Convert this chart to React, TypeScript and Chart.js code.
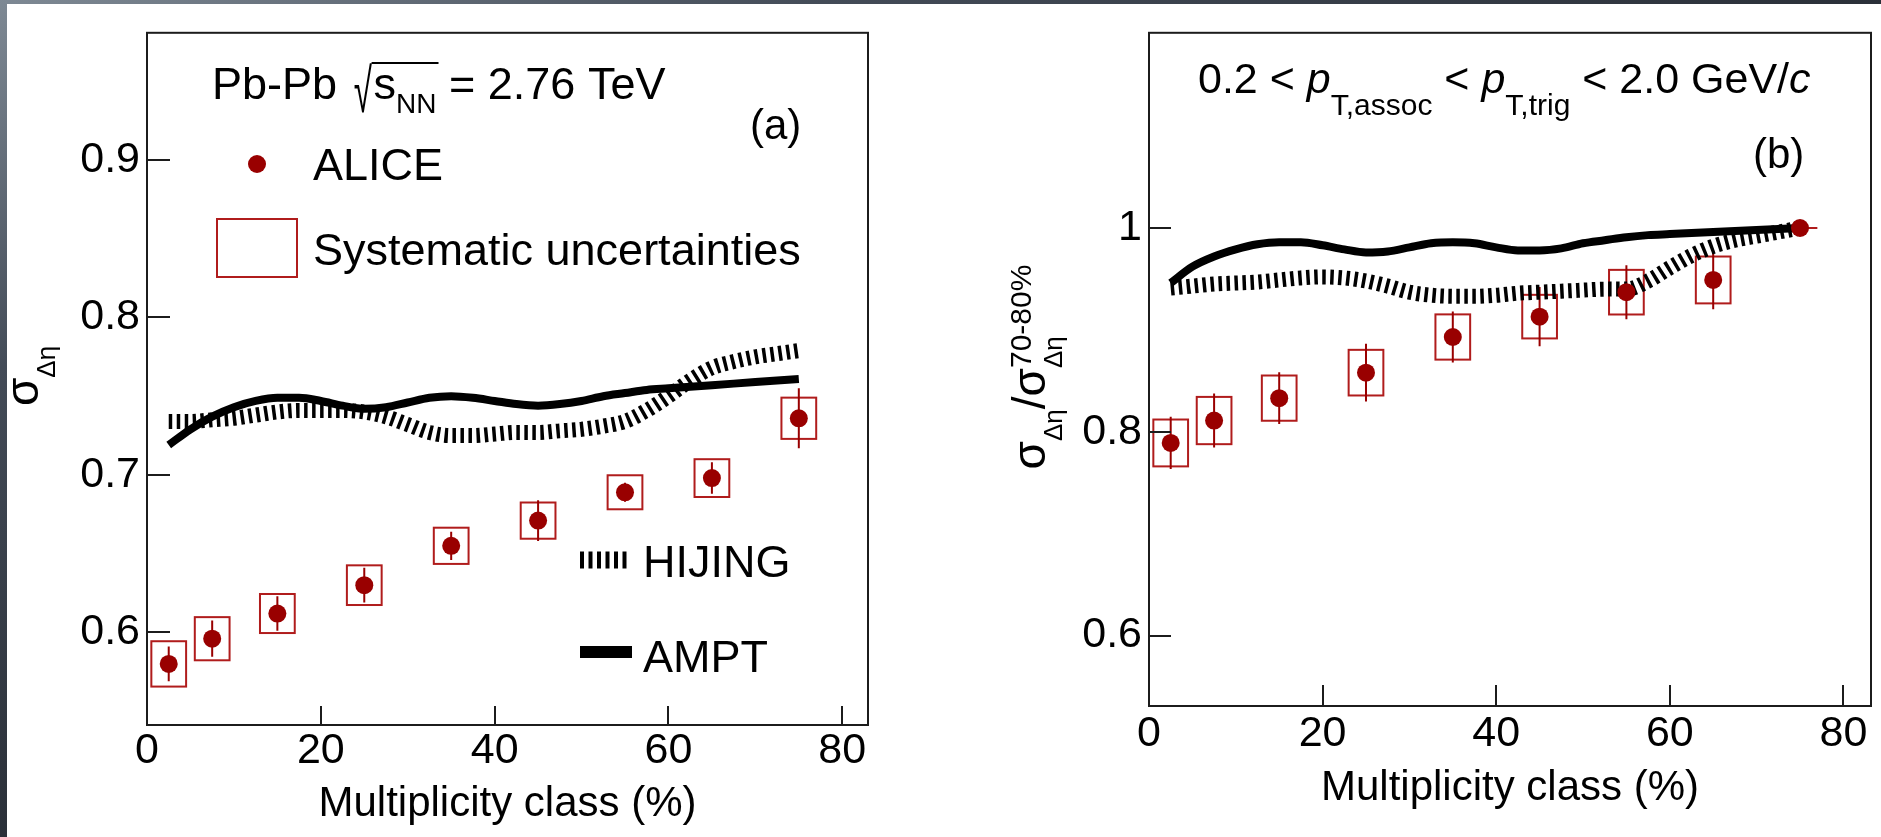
import React, { useEffect, useRef } from "react";
import { Chart, registerables } from "chart.js";

Chart.register(...registerables);

const FONT = "'Liberation Sans', Arial, Helvetica, sans-serif";
const RED = "#990000";
const BOX_RED = "#b01c1c";
const INK = "#000000";
const FRAME = "#1c1c1c";

// ---------------- data ----------------
const centrality = [2.5, 7.5, 15, 25, 35, 45, 55, 65, 75];
const centralityHalfWidth = 2;

const sigmaAlice = [0.58, 0.596, 0.612, 0.63, 0.655, 0.671, 0.689, 0.698, 0.736];
const sigmaStat = [0.011, 0.0115, 0.011, 0.011, 0.009, 0.013, 0.006, 0.01, 0.019];
const sigmaSys = [0.0144, 0.0137, 0.0124, 0.0126, 0.0115, 0.0115, 0.0108, 0.012, 0.0131];

const ratioAlice = [0.789, 0.811, 0.833, 0.858, 0.893, 0.913, 0.937, 0.949, 1.0];
const ratioStat = [0.0256, 0.0265, 0.0255, 0.0284, 0.025, 0.029, 0.0265, 0.0288, 0];
const ratioSys = [0.023, 0.0232, 0.0222, 0.0224, 0.0222, 0.0214, 0.0219, 0.023, 0];

const modelCentrality = [
  2.5, 5, 7.5, 10, 12.5, 15, 17.5, 20, 22.5, 25, 27.5, 30, 32.5, 35, 37.5,
  40, 42.5, 45, 47.5, 50, 52.5, 55, 57.5, 60, 62.5, 65, 67.5, 70, 72.5, 75,
];
const sigmaHijing = [
  0.734, 0.734, 0.735, 0.736, 0.738, 0.74, 0.741, 0.741, 0.741, 0.74, 0.737, 0.732, 0.727, 0.725, 0.725,
  0.726, 0.727, 0.727, 0.728, 0.729, 0.731, 0.734, 0.741, 0.75, 0.76, 0.768, 0.772, 0.775, 0.777, 0.779,
];
const sigmaAmpt = [
  0.719, 0.729, 0.737, 0.743, 0.747, 0.749, 0.749, 0.747, 0.744, 0.742, 0.743, 0.746, 0.749, 0.75, 0.749,
  0.747, 0.745, 0.744, 0.745, 0.747, 0.75, 0.752, 0.754, 0.755, 0.756, 0.757, 0.758, 0.759, 0.76, 0.761,
];
const ratioHijing = [
  0.941, 0.943, 0.945, 0.946, 0.947, 0.949, 0.951, 0.952, 0.951, 0.948, 0.943, 0.937, 0.934, 0.933, 0.933,
  0.934, 0.936, 0.937, 0.938, 0.939, 0.94, 0.94, 0.948, 0.961, 0.973, 0.982, 0.988, 0.992, 0.996, 1.0,
];
const ratioAmpt = [
  0.946, 0.962, 0.972, 0.979, 0.984, 0.986, 0.986, 0.983, 0.979, 0.976, 0.977, 0.981, 0.985, 0.986, 0.985,
  0.981, 0.978, 0.978, 0.98, 0.985, 0.988, 0.991, 0.993, 0.994, 0.995, 0.996, 0.997, 0.998, 0.999, 1.0,
];

const xTickValues = [0, 20, 40, 60, 80];
const xTickLabels = ["0", "20", "40", "60", "80"];
const sigmaTickValues = [0.6, 0.7, 0.8, 0.9];
const sigmaTickLabels = ["0.6", "0.7", "0.8", "0.9"];
const ratioTickValues = [0.6, 0.8, 1];
const ratioTickLabels = ["0.6", "0.8", "1"];

// ---------------- text helpers ----------------
type Seg = { t: string; size: number; dy?: number; italic?: boolean; stack?: boolean };

const segFont = (s: Seg) => `${s.italic ? "italic " : ""}${s.size}px ${FONT}`;

function layoutRich(ctx: CanvasRenderingContext2D, x0: number, y0: number, segs: Seg[], draw: boolean): number {
  let x = x0;
  let prevStart = x0;
  let prevW = 0;
  for (const s of segs) {
    ctx.font = segFont(s);
    const w = ctx.measureText(s.t).width;
    if (s.stack) {
      if (draw) ctx.fillText(s.t, prevStart, y0 + (s.dy ?? 0));
      prevW = Math.max(prevW, w);
      x = prevStart + prevW;
    } else {
      if (draw) ctx.fillText(s.t, x, y0 + (s.dy ?? 0));
      prevStart = x;
      prevW = w;
      x += w;
    }
  }
  return x;
}

function drawRich(ctx: CanvasRenderingContext2D, x: number, y: number, segs: Seg[]) {
  ctx.textAlign = "left";
  ctx.textBaseline = "alphabetic";
  return layoutRich(ctx, x, y, segs, true);
}

function drawVertical(ctx: CanvasRenderingContext2D, baseX: number, centerY: number, segs: Seg[]) {
  ctx.save();
  ctx.textAlign = "left";
  ctx.textBaseline = "alphabetic";
  const w = layoutRich(ctx, 0, 0, segs, false);
  ctx.translate(baseX, centerY);
  ctx.rotate(-Math.PI / 2);
  layoutRich(ctx, -w / 2, 0, segs, true);
  ctx.restore();
}

// draw a glyph stretched to fill a given box
function drawGlyphInBox(ctx: CanvasRenderingContext2D, glyph: string, x0: number, y0: number, x1: number, y1: number) {
  ctx.save();
  ctx.font = `46px ${FONT}`;
  ctx.textAlign = "left";
  ctx.textBaseline = "alphabetic";
  const m = ctx.measureText(glyph);
  const gx0 = -m.actualBoundingBoxLeft;
  const gx1 = m.actualBoundingBoxRight;
  const gy0 = -m.actualBoundingBoxAscent;
  const gy1 = m.actualBoundingBoxDescent;
  ctx.translate(x0, y0);
  ctx.scale((x1 - x0) / Math.max(1, gx1 - gx0), (y1 - y0) / Math.max(1, gy1 - gy0));
  ctx.fillText(glyph, -gx0, -gy0);
  ctx.restore();
}

// ---------------- panel factory ----------------
type PanelSpec = {
  canvas: HTMLCanvasElement;
  pad: { left: number; top: number; right: number; bottom: number };
  yAxisWidth: number;
  xAxisHeight: number;
  xMax: number;
  yMin: number;
  yMax: number;
  yTicks: number[];
  yLabels: string[];
  alice: number[];
  stat: number[];
  sys: number[];
  hijing: number[];
  ampt: number[];
  xTickPad: number;
  xTitlePad: number;
  tickLenX: number;
  tickLenY: number;
  decorate: (ctx: CanvasRenderingContext2D) => void;
};

function makePanel(p: PanelSpec) {
  const tickFont = { family: FONT, size: 43 };
  const errorPlugin = {
    id: "errorsAndBoxes",
    beforeDatasetsDraw(chart: any) {
      const { ctx, chartArea, scales } = chart;
      const x = scales.x;
      const y = scales.y;
      ctx.save();
      ctx.beginPath();
      ctx.rect(chartArea.left, chartArea.top, chartArea.right - chartArea.left, chartArea.bottom - chartArea.top);
      ctx.clip();
      centrality.forEach((c, i) => {
        const x0 = x.getPixelForValue(c - centralityHalfWidth);
        const x1 = x.getPixelForValue(c + centralityHalfWidth);
        const yt = y.getPixelForValue(p.alice[i] + p.sys[i]);
        const yb = y.getPixelForValue(p.alice[i] - p.sys[i]);
        ctx.strokeStyle = BOX_RED;
        ctx.lineWidth = 2;
        ctx.strokeRect(x0, yt, x1 - x0, yb - yt);
        if (p.stat[i] > 0) {
          const px = x.getPixelForValue(c);
          ctx.strokeStyle = RED;
          ctx.beginPath();
          ctx.moveTo(px, y.getPixelForValue(p.alice[i] + p.stat[i]));
          ctx.lineTo(px, y.getPixelForValue(p.alice[i] - p.stat[i]));
          ctx.stroke();
        }
      });
      ctx.restore();
    },
  };
  const framePlugin = {
    id: "frameAndText",
    afterDraw(chart: any) {
      const { ctx, chartArea, scales } = chart;
      const { left, right, top, bottom } = chartArea;
      ctx.save();
      ctx.strokeStyle = FRAME;
      ctx.lineWidth = 2;
      ctx.strokeRect(left, top, right - left, bottom - top);
      ctx.beginPath();
      for (const t of scales.x.ticks) {
        const px = Math.round(scales.x.getPixelForValue(t.value));
        ctx.moveTo(px, bottom);
        ctx.lineTo(px, bottom - p.tickLenX);
      }
      for (const t of scales.y.ticks) {
        const py = Math.round(scales.y.getPixelForValue(t.value));
        ctx.moveTo(left, py);
        ctx.lineTo(left + p.tickLenY, py);
      }
      ctx.stroke();
      ctx.fillStyle = INK;
      p.decorate(ctx);
      ctx.restore();
    },
  };

  return new Chart(p.canvas, {
    type: "line",
    data: {
      datasets: [
        {
          label: "ALICE",
          data: centrality.map((c, i) => ({ x: c, y: p.alice[i] })),
          showLine: false,
          pointRadius: 9,
          pointHoverRadius: 9,
          pointBackgroundColor: RED,
          pointBorderColor: RED,
          pointBorderWidth: 0,
          borderColor: RED,
        },
        {
          label: "HIJING",
          data: modelCentrality.map((c, i) => ({ x: c, y: p.hijing[i] })),
          borderColor: "#000",
          borderWidth: 15,
          borderDash: [3.5, 4.5],
          borderJoinStyle: "bevel",
          pointRadius: 0,
          cubicInterpolationMode: "monotone",
          fill: false,
        },
        {
          label: "AMPT",
          data: modelCentrality.map((c, i) => ({ x: c, y: p.ampt[i] })),
          borderColor: "#000",
          borderWidth: 8,
          borderJoinStyle: "round",
          pointRadius: 0,
          cubicInterpolationMode: "monotone",
          fill: false,
        },
      ],
    },
    options: {
      responsive: false,
      animation: false,
      events: [],
      layout: { padding: p.pad },
      plugins: { legend: { display: false }, tooltip: { enabled: false }, title: { display: false } },
      scales: {
        x: {
          type: "linear",
          min: 0,
          max: p.xMax,
          grid: { display: false, drawTicks: false },
          border: { display: false },
          afterBuildTicks: (s: any) => {
            s.ticks = xTickValues.map((v) => ({ value: v }));
          },
          ticks: {
            autoSkip: false,
            maxRotation: 0,
            padding: p.xTickPad,
            color: INK,
            font: tickFont,
            callback: (v: any) => xTickLabels[xTickValues.indexOf(Number(v))] ?? "",
          },
          title: {
            display: true,
            text: "Multiplicity class (%)",
            color: INK,
            font: { family: FONT, size: 42 },
            padding: { top: 0, bottom: p.xTitlePad },
          },
          afterFit: (s: any) => {
            s.height = p.xAxisHeight;
          },
        },
        y: {
          type: "linear",
          min: p.yMin,
          max: p.yMax,
          grid: { display: false, drawTicks: false },
          border: { display: false },
          afterBuildTicks: (s: any) => {
            s.ticks = p.yTicks.map((v) => ({ value: v }));
          },
          ticks: {
            autoSkip: false,
            padding: 7,
            color: INK,
            font: tickFont,
            callback: (v: any) => {
              const idx = p.yTicks.findIndex((t) => Math.abs(t - Number(v)) < 1e-9);
              return idx >= 0 ? p.yLabels[idx] : "";
            },
          },
          afterFit: (s: any) => {
            s.width = p.yAxisWidth;
          },
        },
      },
    } as any,
    plugins: [errorPlugin, framePlugin],
  });
}

// ---------------- decorations ----------------
function decorateLeft(ctx: CanvasRenderingContext2D) {
  // Pb-Pb sqrt(s_NN) = 2.76 TeV
  const cx = drawRich(ctx, 212, 99, [{ t: "Pb-Pb ", size: 45 }]);
  const rx0 = cx + 5;
  const rx1 = rx0 + 18;
  ctx.fillStyle = INK;
  drawGlyphInBox(ctx, "\u221A", rx0, 62, rx1, 113);
  const sx = rx1 + 1;
  const ex = drawRich(ctx, sx, 99, [
    { t: "s", size: 45 },
    { t: "NN", size: 28, dy: 14 },
  ]);
  ctx.beginPath();
  ctx.lineWidth = 2;
  ctx.strokeStyle = INK;
  ctx.moveTo(rx1 - 1, 63);
  ctx.lineTo(ex + 2, 63);
  ctx.stroke();
  drawRich(ctx, ex, 99, [{ t: " = 2.76 TeV", size: 45 }]);

  drawRich(ctx, 750, 139, [{ t: "(a)", size: 42 }]);

  // ALICE legend
  ctx.fillStyle = RED;
  ctx.beginPath();
  ctx.arc(257, 164, 9, 0, Math.PI * 2);
  ctx.fill();
  ctx.fillStyle = INK;
  drawRich(ctx, 313, 180, [{ t: "ALICE", size: 45 }]);

  // Systematic legend
  ctx.strokeStyle = BOX_RED;
  ctx.lineWidth = 2;
  ctx.strokeRect(217, 219, 80, 58);
  drawRich(ctx, 313, 265, [{ t: "Systematic uncertainties", size: 45 }]);

  // HIJING legend
  ctx.strokeStyle = "#000";
  ctx.lineWidth = 17;
  ctx.setLineDash([4, 4.5]);
  ctx.beginPath();
  ctx.moveTo(580, 560);
  ctx.lineTo(629, 560);
  ctx.stroke();
  ctx.setLineDash([]);
  drawRich(ctx, 643, 577, [{ t: "HIJING", size: 45 }]);

  // AMPT legend
  ctx.lineWidth = 12;
  ctx.beginPath();
  ctx.moveTo(580, 652);
  ctx.lineTo(632, 652);
  ctx.stroke();
  drawRich(ctx, 643, 672, [{ t: "AMPT", size: 45 }]);

  // y title
  drawVertical(ctx, 38, 376, [
    { t: "\u03C3", size: 46 },
    { t: "\u0394\u03B7", size: 26, dy: 17 },
  ]);
}

function decorateRight(ctx: CanvasRenderingContext2D) {
  drawRich(ctx, 258, 93, [
    { t: "0.2 < ", size: 43 },
    { t: "p", size: 43, italic: true },
    { t: "T,assoc", size: 30, dy: 22 },
    { t: " < ", size: 43 },
    { t: "p", size: 43, italic: true },
    { t: "T,trig", size: 30, dy: 22 },
    { t: " < 2.0 GeV/", size: 43 },
    { t: "c", size: 43, italic: true },
  ]);
  drawRich(ctx, 813, 168, [{ t: "(b)", size: 42 }]);

  drawVertical(ctx, 105, 367, [
    { t: "\u03C3", size: 46 },
    { t: "\u0394\u03B7", size: 26, dy: 17 },
    { t: "/", size: 46 },
    { t: "\u03C3", size: 46 },
    { t: "\u0394\u03B7", size: 26, dy: 17 },
    { t: "70-80%", size: 30, dy: -14, stack: true },
  ]);
}

export default function App() {
  const leftRef = useRef<HTMLCanvasElement>(null);
  const rightRef = useRef<HTMLCanvasElement>(null);

  useEffect(() => {
    document.body.style.margin = "0";
    const left = makePanel({
      canvas: leftRef.current!,
      pad: { left: 0, top: 28, right: 72, bottom: 0 },
      yAxisWidth: 147,
      xAxisHeight: 112,
      xMax: 82.96,
      yMin: 0.5412,
      yMax: 0.9808,
      yTicks: sigmaTickValues,
      yLabels: sigmaTickLabels,
      alice: sigmaAlice,
      stat: sigmaStat,
      sys: sigmaSys,
      hijing: sigmaHijing,
      ampt: sigmaAmpt,
      xTickPad: 0,
      xTitlePad: 7,
      tickLenX: 19,
      tickLenY: 23,
      decorate: decorateLeft,
    });
    const right = makePanel({
      canvas: rightRef.current!,
      pad: { left: 0, top: 28, right: 10, bottom: 0 },
      yAxisWidth: 209,
      xAxisHeight: 131,
      xMax: 83.18,
      yMin: 0.5308,
      yMax: 1.1916,
      yTicks: ratioTickValues,
      yLabels: ratioTickLabels,
      alice: ratioAlice,
      stat: ratioStat,
      sys: ratioSys,
      hijing: ratioHijing,
      ampt: ratioAmpt,
      xTickPad: 2,
      xTitlePad: 23,
      tickLenX: 21,
      tickLenY: 22,
      decorate: decorateRight,
    });
    return () => {
      left.destroy();
      right.destroy();
    };
  }, []);

  return (
    <div
      style={{
        position: "absolute",
        left: 0,
        top: 0,
        width: 1881,
        height: 837,
        overflow: "hidden",
        background: "linear-gradient(to bottom right, #7e8994 0%, #434b57 22%, #262b33 55%, #1b1f24 100%)",
      }}
    >
      <div style={{ position: "absolute", left: 7, top: 4, right: 0, bottom: 0, background: "#ffffff" }} />
      <canvas
        ref={leftRef}
        width={940}
        height={837}
        style={{ position: "absolute", left: 0, top: 0, width: 940, height: 837 }}
      />
      <canvas
        ref={rightRef}
        width={941}
        height={837}
        style={{ position: "absolute", left: 940, top: 0, width: 941, height: 837 }}
      />
    </div>
  );
}
